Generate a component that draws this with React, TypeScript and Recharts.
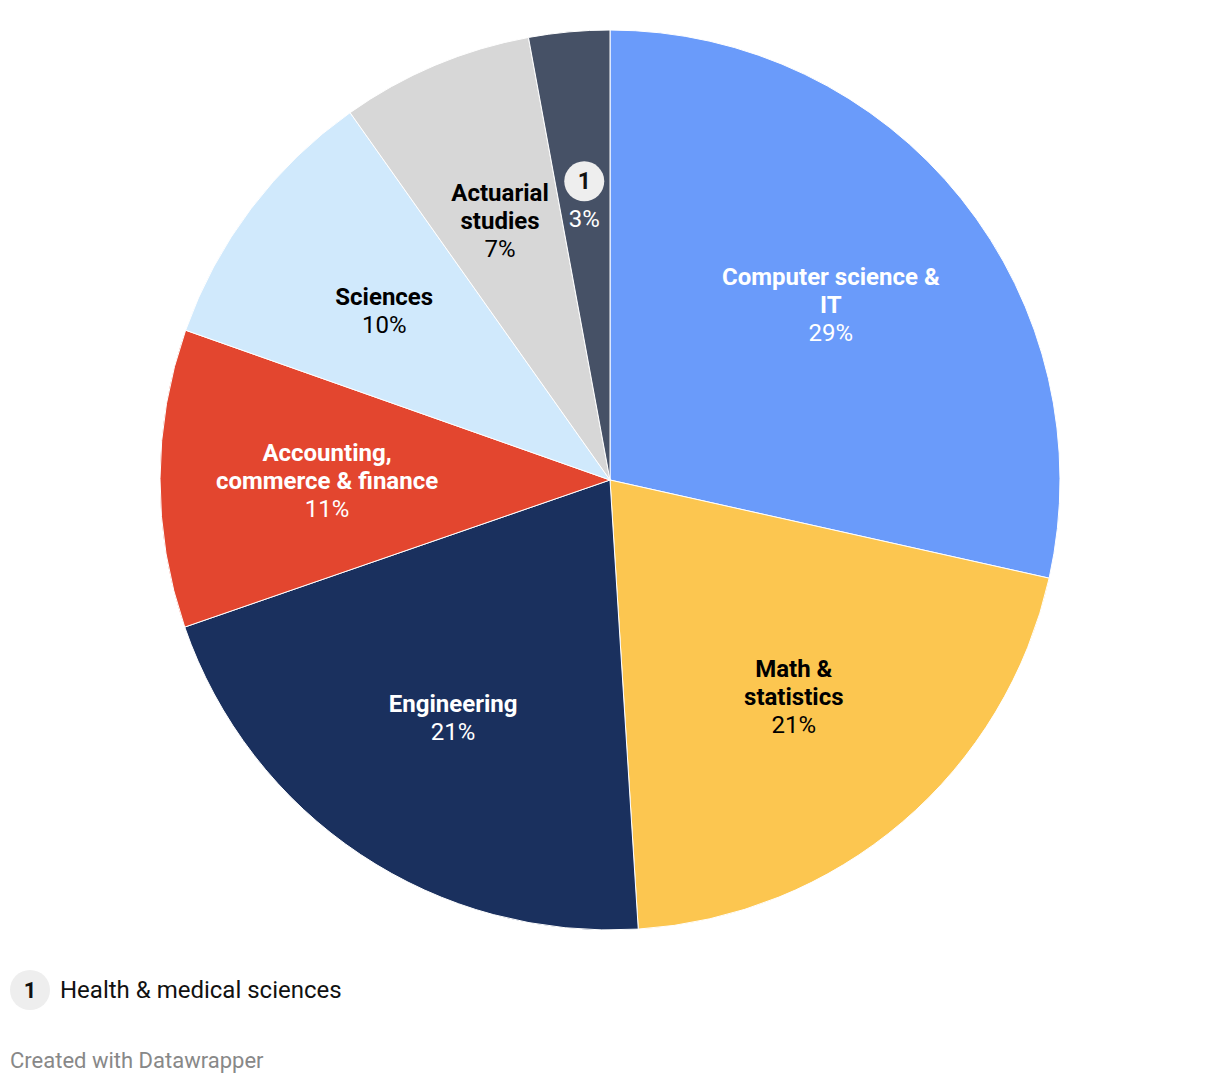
import { Cell, Pie, PieChart } from "recharts";

const categories = [
  "Computer science & IT",
  "Math & statistics",
  "Engineering",
  "Accounting, commerce & finance",
  "Sciences",
  "Actuarial studies",
  "Health & medical sciences",
];
const shares = [28.5, 20.5, 20.7, 10.7, 9.8, 6.9, 2.9];
const sliceLabels = [
  ["Computer science &", "IT"],
  ["Math &", "statistics"],
  ["Engineering"],
  ["Accounting,", "commerce & finance"],
  ["Sciences"],
  ["Actuarial", "studies"],
  [],
];
const footnoteMarks = ["", "", "", "", "", "", "1"];

const colors = ["#6a9bfa", "#fcc650", "#1a305e", "#e3462f", "#d0e9fc", "#d7d7d7", "#465166"];
const textColors = ["#fff", "#000", "#fff", "#fff", "#000", "#000", "#fff"];

const data = categories.map((name, i) => ({ name, value: shares[i] }));

const RAD = Math.PI / 180;
const FONT = "Roboto, sans-serif";

const renderLabel = (props: any) => {
  const { cx, cy, midAngle, index, value } = props;
  const r = 283;
  const x = cx + r * Math.cos(-midAngle * RAD);
  const y = cy + r * Math.sin(-midAngle * RAD) + 2;
  const lines: string[] = sliceLabels[index];
  const mark = footnoteMarks[index];
  const fill = textColors[index];
  const lh = 28;
  const total = lines.length + 1 + (mark ? 1.35 : 0);
  const top = y - ((total - 1) * lh) / 2;
  let k = 0;
  const els: any[] = [];
  if (mark) {
    els.push(
      <g key="m">
        <circle cx={x} cy={top} r={20} fill="#eeeeee" />
        <text x={x} y={top} textAnchor="middle" dominantBaseline="central" fontSize={23} fontWeight={700} fill="#111" fontFamily={FONT}>
          {mark}
        </text>
      </g>
    );
    k = 1.35;
  }
  lines.forEach((ln, i) => {
    els.push(
      <text key={"l" + i} x={x} y={top + (k + i) * lh} textAnchor="middle" dominantBaseline="central" fontSize={24} fontWeight={700} fill={fill} fontFamily={FONT}>
        {ln}
      </text>
    );
  });
  els.push(
    <text key="p" x={x} y={top + (k + lines.length) * lh} textAnchor="middle" dominantBaseline="central" fontSize={24} fill={fill} fontFamily={FONT}>
      {Math.round(value)}%
    </text>
  );
  return <g>{els}</g>;
};

export default function App() {
  return (
    <div style={{ position: "absolute", top: 0, left: 0, width: 1220, height: 1086, background: "#fff", fontFamily: FONT }}>
      <PieChart width={1220} height={950} margin={{ top: 0, right: 0, bottom: 0, left: 0 }}>
        <Pie
          data={data}
          dataKey="value"
          cx={610}
          cy={480}
          outerRadius={450}
          startAngle={90}
          endAngle={-270}
          stroke="#fff"
          strokeWidth={1}
          label={renderLabel}
          labelLine={false}
          isAnimationActive={false}
        >
          {data.map((d, i) => (
            <Cell key={d.name} fill={colors[i]} />
          ))}
        </Pie>
      </PieChart>
      <div style={{ position: "absolute", left: 10, top: 970, display: "flex", alignItems: "center" }}>
        <div style={{ width: 40, height: 40, borderRadius: 20, background: "#eeeeee", display: "flex", alignItems: "center", justifyContent: "center", fontWeight: 700, fontSize: 22, color: "#111" }}>
          1
        </div>
        <span style={{ marginLeft: 10, fontSize: 24, color: "#111" }}>{categories[6]}</span>
      </div>
      <div style={{ position: "absolute", left: 10, top: 1048, fontSize: 22, color: "#888" }}>Created with Datawrapper</div>
    </div>
  );
}
